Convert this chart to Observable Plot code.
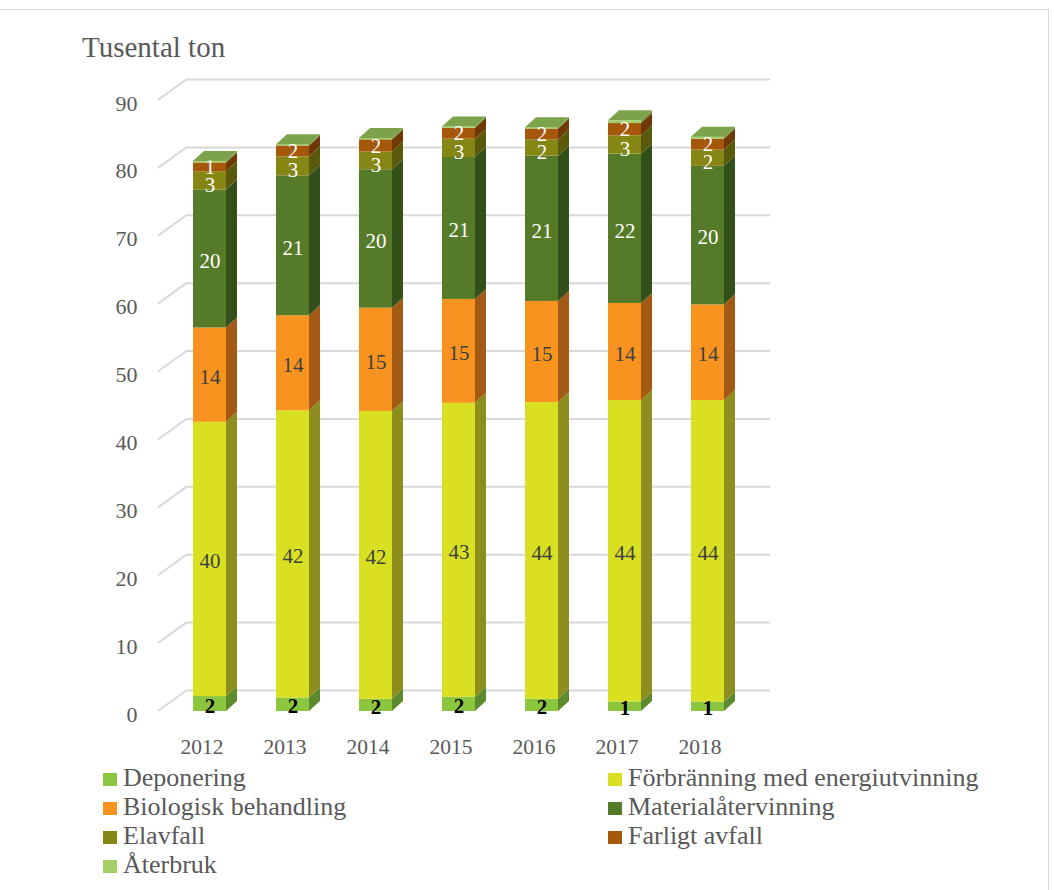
<!DOCTYPE html>
<html>
<head>
<meta charset="utf-8">
<script src="https://cdn.jsdelivr.net/npm/d3@7"></script>
<script src="https://cdn.jsdelivr.net/npm/@observablehq/plot@0.6"></script>
<style>
  html, body { margin: 0; padding: 0; background: #fff; }
  body { width: 1054px; height: 890px; position: relative; overflow: hidden; font-family: "Liberation Serif", "DejaVu Serif", serif; }
  #frame { position: absolute; left: -1px; top: 9px; width: 1050px; height: 900px; border: 1px solid #d9d9d9; box-sizing: border-box; }
  #title { position: absolute; left: 82px; top: 31px; font-size: 29px; line-height: 32px; color: #595959; white-space: nowrap; }
  #chart { position: absolute; left: 0; top: 70px; }
  .leg { position: absolute; font-size: 26px; line-height: 29px; color: #595959; white-space: nowrap; }
  .sw { display: inline-block; width: 14px; height: 13px; margin-right: 6px; vertical-align: 0px; }
</style>
</head>
<body>
<div id="frame"></div>
<div id="title">Tusental ton</div>
<div id="chart"></div>
<div id="legend"></div>
<script>
// ---- data ----
const years = ["2012", "2013", "2014", "2015", "2016", "2017", "2018"];
const categories = ["Deponering", "Förbränning med energiutvinning", "Biologisk behandling", "Materialåtervinning", "Elavfall", "Farligt avfall", "Återbruk"];
const deponering   = [2.2, 2.0, 1.8, 2.1, 1.8, 1.4, 1.4];
const forbranning  = [40.4, 42.3, 42.4, 43.3, 43.7, 44.4, 44.4];
const biologisk    = [13.9, 14.0, 15.2, 15.3, 14.9, 14.3, 14.1];
const material     = [20.3, 20.6, 20.4, 20.9, 21.4, 22.0, 20.4];
const elavfall     = [2.7, 2.8, 2.6, 2.7, 2.4, 2.7, 2.4];
const farligt      = [1.3, 1.6, 1.8, 1.6, 1.6, 1.8, 1.6];
const aterbruk     = [0.2, 0.2, 0.2, 0.2, 0.2, 0.4, 0.3];
const yTicks = [0, 10, 20, 30, 40, 50, 60, 70, 80, 90];

// ---- styles ----
const frontColors = ["#8cc63f", "#d9e021", "#f7931e", "#557a28", "#868614", "#a6580a", "#a3cf67"];
const sideColors  = ["#5e8a2e", "#8e8e1e", "#a35a14", "#33501a", "#5a5a0c", "#6e3906", "#6f8f3f"];
const topColor = "#7ca24b";
const labelColors = ["#000000", "#404040", "#404040", "#ffffff", "#ffffff", "#ffffff", null];
const labelShift = [2, 2, 2, 2, 4, 0, 0];

const series = [deponering, forbranning, biologisk, material, elavfall, farligt, aterbruk];
const table = [];
categories.forEach((cat, i) => {
  years.forEach((year, j) => table.push({year, cat, value: series[i][j], ci: i}));
});

const labelMark = (color, shift) => Plot.text(table, Plot.stackY({
  x: "year", y: "value", z: "cat",
  text: d => (labelColors[d.ci] === color && labelShift[d.ci] === shift) ? String(Math.round(d.value)) : "",
  fill: color, fontSize: 21, dy: shift,
  fontWeight: color === "#000000" ? "bold" : "normal"
}));

const chart = Plot.plot({
  width: 1054,
  height: 700,
  marginTop: 30,
  marginBottom: 59,
  marginLeft: 151,
  marginRight: 287,
  style: {fontFamily: "Liberation Serif, DejaVu Serif, serif", background: "transparent", overflow: "visible"},
  x: {domain: years, paddingInner: 0.6, paddingOuter: 0.5, axis: null},
  y: {domain: [0, 90], axis: null},
  color: {domain: categories, range: frontColors},
  marks: [
    Plot.ruleY(yTicks, {dx: 29, dy: -21, insetLeft: 7, insetRight: 26, stroke: "#d9d9d9", strokeWidth: 2}),
    Plot.text(yTicks, {y: d => d, text: d => String(d), frameAnchor: "left", textAnchor: "end", dx: -14, dy: 3, fill: "#595959", fontSize: 22}),
    Plot.text(years, {x: d => d, text: d => d, frameAnchor: "bottom", lineAnchor: "middle", dx: -8, dy: 36, fill: "#595959", fontSize: 21.5}),
    Plot.barY(table, {x: "year", y: "value", fill: "cat"}),
    labelMark("#000000", 2),
    labelMark("#404040", 2),
    labelMark("#ffffff", 2),
    labelMark("#ffffff", 4),
    labelMark("#ffffff", 0)
  ]
});
document.getElementById("chart").appendChild(chart);

// ---- 3D faces and floor diagonals, positioned from Plot's scales / rendered bars ----
const svg = d3.select(chart);
const ys = chart.scale("y");
const xs = chart.scale("x");
const x0 = xs.range[0];
const gd = svg.insert("g", "g");
yTicks.forEach(v => {
  const yy = ys.apply(v);
  gd.append("line").attr("x1", x0 + 7).attr("y1", yy).attr("x2", x0 + 7 + 29).attr("y2", yy - 21)
    .attr("stroke", "#d9d9d9").attr("stroke-width", 2);
});

const D = 11, E = 10;
const rects = svg.selectAll('g[aria-label="bar"] rect').nodes();
if (rects.length) {
  const parent = d3.select(rects[0].parentNode);
  const topY = {};
  rects.forEach(r => {
    const x = +r.getAttribute("x"), y = +r.getAttribute("y");
    if (!(x in topY) || y < topY[x]) topY[x] = y;
  });
  rects.forEach(r => {
    const x = +r.getAttribute("x"), y = +r.getAttribute("y");
    const w = +r.getAttribute("width"), h = +r.getAttribute("height");
    const ci = frontColors.indexOf(r.getAttribute("fill"));
    parent.append("polygon")
      .attr("points", [[x + w, y], [x + w + D, y - E], [x + w + D, y + h - E], [x + w, y + h]].map(p => p.join(",")).join(" "))
      .attr("fill", sideColors[ci] || "#555");
    if (y === topY[x]) {
      parent.append("polygon")
        .attr("points", [[x, y], [x + D, y - E], [x + w + D, y - E], [x + w, y]].map(p => p.join(",")).join(" "))
        .attr("fill", topColor);
    }
  });
}

// ---- legend ----
const legend = document.getElementById("legend");
const rowCenters = [778, 807, 836, 865];
categories.forEach((cat, i) => {
  const row = Math.floor(i / 2), col = i % 2;
  const div = document.createElement("div");
  div.className = "leg";
  div.style.left = (col === 0 ? 103 : 608) + "px";
  div.style.top = (rowCenters[row] - 15) + "px";
  const sw = document.createElement("span");
  sw.className = "sw";
  sw.style.background = frontColors[i];
  div.appendChild(sw);
  div.appendChild(document.createTextNode(cat));
  legend.appendChild(div);
});
</script>
</body>
</html>
